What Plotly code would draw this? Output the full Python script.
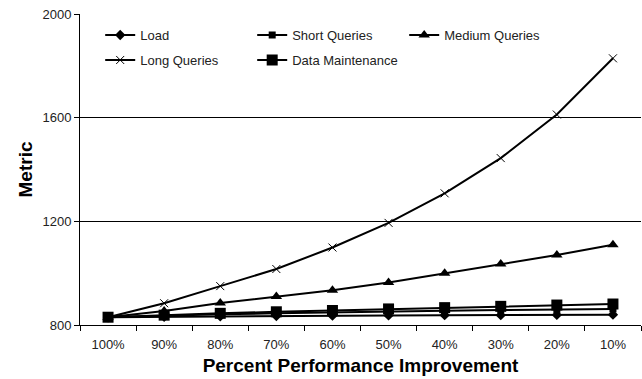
import plotly.graph_objects as go

categories = ["100%", "90%", "80%", "70%", "60%", "50%", "40%", "30%", "20%", "10%"]

load = [830, 832, 834, 835, 836, 837, 838, 838, 839, 840]
short_queries = [830, 836, 841, 845, 849, 852, 855, 858, 860, 862]
medium_queries = [830, 854, 885, 910, 934, 964, 1000, 1035, 1070, 1110]
long_queries = [830, 884, 950, 1016, 1099, 1194, 1308, 1444, 1612, 1829]
data_maintenance = [830, 838, 845, 851, 856, 862, 867, 872, 877, 881]

series = [
    ("Load", load, dict(symbol="diamond", size=8), "legend"),
    ("Short Queries", short_queries, dict(symbol="square", size=7), "legend"),
    ("Medium Queries", medium_queries, dict(symbol="triangle-up", size=10), "legend"),
    ("Long Queries", long_queries,
     dict(symbol="x-thin", size=8, line=dict(width=1, color="black")), "legend2"),
    ("Data Maintenance", data_maintenance, dict(symbol="square", size=11), "legend2"),
]

fig = go.Figure()
for name, values, marker, leg in series:
    fig.add_trace(go.Scatter(
        x=categories, y=values, name=name, mode="lines+markers",
        line=dict(color="black", width=2),
        marker=dict(color="black", **marker),
        legend=leg,
    ))

font = "Liberation Sans, Arial, sans-serif"
legend_common = dict(
    orientation="h", xref="paper", yref="paper",
    xanchor="left", yanchor="middle",
    font=dict(family=font, size=13, color="#222"),
    bgcolor="rgba(0,0,0,0)", entrywidth=107, itemwidth=30,
    traceorder="normal",
)

fig.update_layout(
    width=642, height=379,
    margin=dict(l=80, r=1, t=14, b=54, autoexpand=False),
    paper_bgcolor="white", plot_bgcolor="white",
    font=dict(family=font, size=13, color="#222"),
    legend=dict(x=0.036, y=0.9325, **legend_common),
    legend2=dict(x=0.036, y=0.852, **legend_common),
    xaxis=dict(
        type="category", range=[-0.5, len(categories) - 0.5], showgrid=False,
        showline=True, linecolor="black", linewidth=1,
        ticks="outside", ticklen=5, tickcolor="black", tickson="boundaries",
        ticklabelstandoff=7,
        tickfont=dict(size=13, color="#222"),
        title=dict(text="<b>Percent Performance Improvement</b>",
                   font=dict(size=19, color="black", family=font),
                   standoff=8),
    ),
    yaxis=dict(
        range=[800, 2000], tickvals=[800, 1200, 1600, 2000],
        showgrid=True, gridcolor="black", gridwidth=1,
        showline=True, linecolor="black", linewidth=1,
        ticks="outside", ticklen=5, tickcolor="black",
        tickfont=dict(size=13, color="#222"),
        zeroline=False,
        title=dict(text="<b>Metric</b>",
                   font=dict(size=19, color="black", family=font),
                   standoff=4),
    ),
)

fig.write_html("out.html")
